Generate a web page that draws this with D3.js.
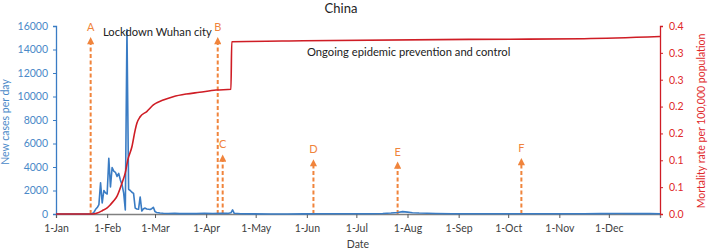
<!DOCTYPE html>
<html lang="en">
<head>
<meta charset="utf-8">
<title>China</title>
<script src="https://d3js.org/d3.v7.min.js"></script>
<style>
  body{margin:0;background:#fff;font-family:Lato, "Open Sans", sans-serif;}
  svg text{font-family:Lato, "Open Sans", sans-serif;}
</style>
</head>
<body>
<div id="chart"></div>
<script>
// days counted from 1-Jan-2020
var caseDays   = [0, 20, 21, 22, 23, 24, 25, 26, 27, 28, 29, 30, 31, 32, 33, 34, 35, 36, 37, 38, 39, 40, 41, 42, 43, 44, 45, 46, 47, 48, 49, 50, 51, 52, 53, 54, 55, 56, 57, 58, 59, 60, 61, 62, 63, 65, 68, 72, 75, 80, 85, 90, 95, 100, 104, 106, 107, 108, 112, 120, 130, 140, 150, 160, 170, 180, 190, 198, 203, 207, 210, 213, 216, 220, 225, 230, 240, 250, 260, 270, 280, 290, 300, 310, 320, 330, 340, 350, 360, 366]
var caseValues = [0, 0, 0, 30, 150, 400, 550, 800, 2650, 950, 2000, 1800, 1700, 4750, 2300, 3950, 3650, 3550, 3200, 3450, 2900, 2500, 1800, 350, 15700, 2100, 2000, 1850, 1750, 500, 420, 400, 1450, 250, 450, 500, 420, 400, 380, 450, 570, 200, 130, 110, 80, 60, 40, 50, 30, 45, 30, 60, 40, 70, 50, 100, 350, 60, 20, 10, 5, 5, 10, 20, 25, 15, 20, 40, 80, 130, 200, 160, 110, 80, 60, 40, 20, 15, 15, 20, 15, 20, 25, 20, 20, 30, 40, 35, 30, 25]

var mortDays   = [0, 22, 25, 28, 31, 33, 35, 37, 40, 42, 43.5, 46, 48, 49, 51, 55, 59, 65, 71, 79, 87, 97, 106, 106.5, 150, 250, 320, 366]
var mortValues = [0, 0, 0.002, 0.007, 0.013, 0.02, 0.028, 0.038, 0.066, 0.088, 0.115, 0.143, 0.179, 0.193, 0.207, 0.218, 0.232, 0.2426, 0.2496, 0.2553, 0.259, 0.2638, 0.2653, 0.3666, 0.3685, 0.3715, 0.373, 0.3775]

var eventLabels = ["A", "B", "C", "D", "E", "F"]
var eventDays   = [21, 98, 101, 156, 207, 282]
var eventTops   = [15150, 15150, 5150, 4750, 4550, 4850]

var monthLabels = ["1-Jan","1-Feb","1-Mar","1-Apr","1-May","1-Jun","1-Jul","1-Aug","1-Sep","1-Oct","1-Nov","1-Dec"]
var caseTicks = [0, 2000, 4000, 6000, 8000, 10000, 12000, 14000, 16000]
var mortTicks = [0, 0.4/7, 0.8/7, 1.2/7, 1.6/7, 2/7, 2.4/7, 0.4]

var blue = "#3a7cc4", blueText = "#4a89c8", red = "#cf1d25", redText = "#e0282a", orange = "#f0843c"

var W = 708, H = 250
var start = new Date(2020, 0, 1)
function dayDate(d){ return new Date(start.getTime() + d*86400000) }

var x = d3.scaleTime().domain([start, new Date(2021, 0, 1)]).range([56, 660])
var yCases = d3.scaleLinear().domain([0, 16000]).range([214, 26])
var yMort = d3.scaleLinear().domain([0, 0.4]).range([214, 26])

var svg = d3.select("#chart").append("svg").attr("width", W).attr("height", H)

// arrow head, pointing along the line
svg.append("defs").append("marker")
    .attr("id", "arrow")
    .attr("viewBox", "0 0 10 10")
    .attr("refX", 3).attr("refY", 5)
    .attr("markerWidth", 4.2).attr("markerHeight", 3.6)
    .attr("orient", "auto")
    .attr("markerUnits", "strokeWidth")
    .append("path").attr("d", "M0,0 L10,5 L0,10 Z").attr("fill", orange)

// x axis
var monthDates = d3.range(12).map(function(m){ return new Date(2020, m, 1) })
var xAxis = svg.append("g").attr("transform", "translate(0,214)")
    .call(d3.axisBottom(x).tickValues(monthDates).tickSize(4).tickPadding(7)
        .tickFormat(function(d,i){ return monthLabels[i] }))
xAxis.select(".domain").attr("stroke", "#808080").attr("stroke-width", 1.3)
xAxis.selectAll(".tick line").attr("stroke", "#595959")
xAxis.selectAll("text").attr("fill", "#404040").style("font-size", "10.5px")

// left axis
var yl = svg.append("g").attr("transform", "translate(56,0)")
    .call(d3.axisLeft(yCases).tickValues(caseTicks).tickSize(3).tickPadding(5).tickFormat(d3.format("d")))
yl.select(".domain").attr("stroke", blue).attr("stroke-width", 1.3)
yl.selectAll(".tick line").attr("stroke", blue)
yl.selectAll("text").attr("fill", blueText).style("font-size", "10.5px")

// right axis
var yr = svg.append("g").attr("transform", "translate(660,0)")
    .call(d3.axisRight(yMort).tickValues(mortTicks).tickSize(3).tickPadding(6).tickFormat(d3.format(".1f")))
yr.select(".domain").attr("stroke", red).attr("stroke-width", 1.3)
yr.selectAll(".tick line").attr("stroke", red)
yr.selectAll("text").attr("fill", redText).style("font-size", "10.5px")

// event arrows
var ev = svg.selectAll(".ev").data(eventLabels).enter().append("g").attr("class", "ev")
ev.append("line")
    .attr("x1", function(d,i){ return x(dayDate(eventDays[i])) })
    .attr("x2", function(d,i){ return x(dayDate(eventDays[i])) })
    .attr("y1", yCases(0))
    .attr("y2", function(d,i){ return yCases(eventTops[i]) + 6 })
    .attr("stroke", orange).attr("stroke-width", 2)
    .attr("stroke-dasharray", "4,2.5")
    .attr("marker-end", "url(#arrow)")
ev.append("text")
    .attr("x", function(d,i){ return x(dayDate(eventDays[i])) })
    .attr("y", function(d,i){ return yCases(eventTops[i]) - 5 })
    .attr("text-anchor", "middle")
    .attr("fill", orange).style("font-size", "11px")
    .text(function(d){ return d })

// cases line
var caseLine = d3.line()
    .x(function(d){ return x(dayDate(d[0])) })
    .y(function(d){ return yCases(d[1]) })
svg.append("path")
    .datum(d3.zip(caseDays, caseValues))
    .attr("d", caseLine)
    .attr("fill", "none").attr("stroke", blue).attr("stroke-width", 1.6)
    .attr("stroke-linejoin", "round")

// mortality line
var mortLine = d3.line()
    .curve(d3.curveMonotoneX)
    .x(function(d){ return x(dayDate(d[0])) })
    .y(function(d){ return yMort(d[1]) })
svg.append("path")
    .datum(d3.zip(mortDays, mortValues))
    .attr("d", mortLine)
    .attr("fill", "none").attr("stroke", red).attr("stroke-width", 1.6)
    .attr("stroke-linejoin", "round")

// texts
svg.append("text").attr("x", 341).attr("y", 13).attr("text-anchor", "middle")
    .attr("fill", "#222").style("font-size", "13px").text("China")
svg.append("text").attr("x", 103).attr("y", 36)
    .attr("fill", "#222").style("font-size", "11.2px").text("Lockdown Wuhan city")
svg.append("text").attr("x", 307).attr("y", 55.5)
    .attr("fill", "#222").style("font-size", "11.2px").text("Ongoing epidemic prevention and control")
svg.append("text").attr("x", 358).attr("y", 248).attr("text-anchor", "middle")
    .attr("fill", "#404040").style("font-size", "10.5px").text("Date")
svg.append("text").attr("transform", "translate(9,122) rotate(-90)").attr("text-anchor", "middle")
    .attr("fill", blueText).style("font-size", "10.5px").text("New cases per day")
svg.append("text").attr("transform", "translate(705,121) rotate(-90)").attr("text-anchor", "middle")
    .attr("fill", redText).style("font-size", "10.5px").text("Mortality rate per 100,000 population")
</script>
</body>
</html>
